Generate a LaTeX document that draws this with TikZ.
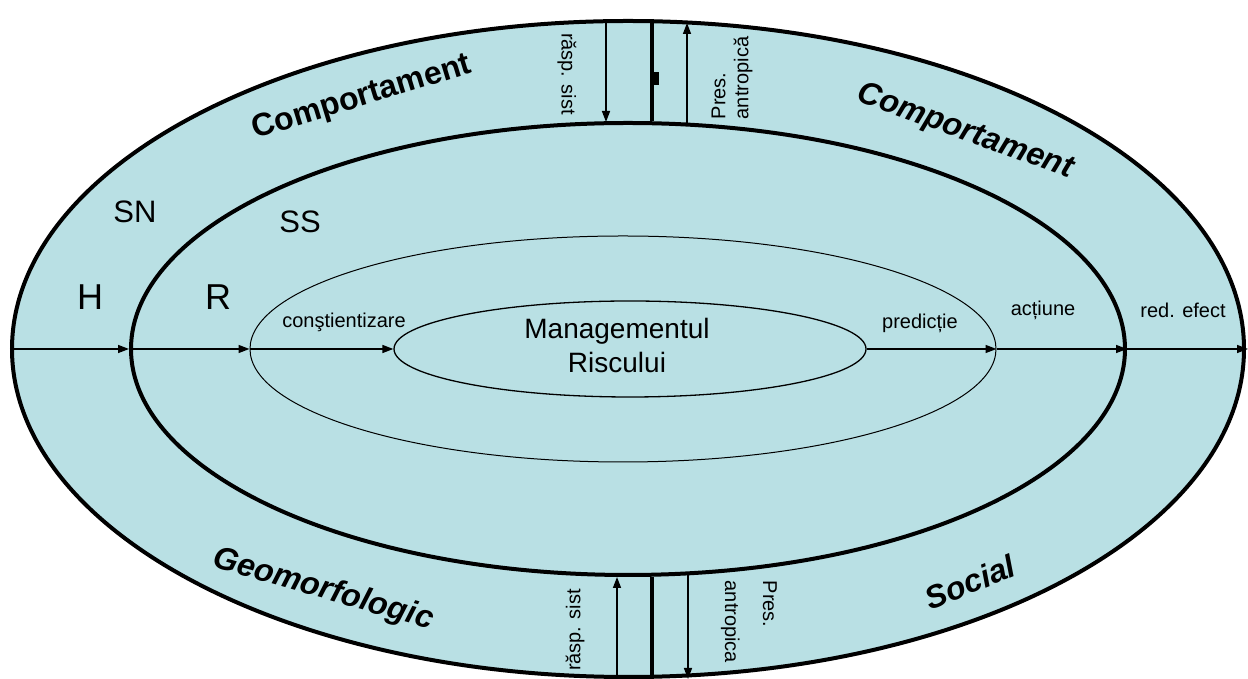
\documentclass[tikz,border=0pt]{standalone}
\usepackage{fontspec}
\setmainfont{Liberation Sans}
\usepackage{tikz}
\usetikzlibrary{shapes.geometric,arrows.meta,calc}
\definecolor{sysblue}{RGB}{185,224,228}
\tikzset{
	sysring/.style={ellipse, draw, inner sep=0pt},
	flow/.style={line width=1.5pt, -{Triangle[length=11pt,width=8pt]}},
	wall/.style={line width=4.5pt}
}
\tikzstyle{smalltext}=[inner sep=0pt, font=\fontsize{20}{23}\selectfont]
\tikzstyle{midtext}=[inner sep=0pt, font=\fontsize{31}{34}\selectfont]
\tikzstyle{bigtext}=[inner sep=0pt, font=\fontsize{36}{40}\selectfont]
\tikzstyle{zonetext}=[inner sep=0pt, font=\fontsize{32}{36}\selectfont\bfseries]
\begin{document}
\begin{tikzpicture}[x=1pt, y=1pt]
	\useasboundingbox (0,0) rectangle (1248,679);
	% nested systems
	\node[sysring, fill=sysblue, line width=4pt, minimum width=1232pt, minimum height=656pt] (sn) at (628,330) {};
	\node[sysring, line width=4pt, minimum width=994pt, minimum height=452pt] (ss) at (628,330) {};
	\node[sysring, line width=1pt, minimum width=746pt, minimum height=226pt] (risk) at (623,330) {};
	\node[sysring, line width=1.3pt, minimum width=472pt, minimum height=96pt] (core) at (630,330) {};
	\node[midtext, font=\fontsize{28}{34}\selectfont, align=center] (mgmt) at (617,334) {Managementul\\Riscului};
	% main flow
	\coordinate (out) at (1248,330);
	\draw[flow] (sn.west) -- (ss.west);
	\draw[flow] (ss.west) -- (risk.west);
	\draw[flow] (risk.west) -- (core.west);
	\draw[flow] (core.east) -- (risk.east);
	\draw[flow] (risk.east) -- (ss.east);
	\draw[flow] (ss.east) -- (out);
	% top exchange
	\coordinate (t1) at (606,0);
	\coordinate (t2) at (652,0);
	\coordinate (t3) at (687,0);
	\draw[wall] (t2 |- sn.north) -- (t2 |- ss.north);
	\fill (654,594) rectangle (659,607);
	\draw[flow] ($(t1 |- sn.north)+(0,-3)$) -- ($(t1 |- ss.north)+(0,-1)$);
	\draw[flow] ($(t3 |- ss.north)+(0,-4)$) -- ($(t3 |- sn.north)+(0,-4)$);
	% bottom exchange
	\coordinate (b1) at (617,0);
	\coordinate (b2) at (652,0);
	\coordinate (b3) at (688,0);
	\draw[wall] (b2) -- (b2 |- ss.south);
	\draw[flow] (b1) -- (b1 |- ss.south);
	\draw[flow] ($(b3 |- ss.south)+(0,3)$) -- (b3);
	% labels
	\node[smalltext, rotate=-90] (resp1) at (567,605) {răsp. sist};
	\node[smalltext, rotate=90, align=left] (pres1) at (732,601) {Pres.\\antropică};
	\node[smalltext, rotate=90] (resp2) at (575,49) {răsp. sist};
	\node[smalltext, rotate=-90, align=left] (pres2) at (749,57) {Pres.\\[15pt]antropica};
	\node[smalltext] (aware) at (344,357) {conştientizare};
	\node[smalltext] (predict) at (920,356) {predicție};
	\node[smalltext] (act) at (1043,369) {acțiune};
	\node[smalltext] (reduce) at (1183,369) {red. efect};
	\node[bigtext] (hlab) at (90,382) {H};
	\node[bigtext] (rlab) at (218,382) {R};
	\node[midtext] (snlab) at (135,467) {SN};
	\node[midtext] (sslab) at (300,457) {SS};
	\node[zonetext, rotate=17] (beh1) at (362,581) {Comportament};
	\node[zonetext, rotate=-20] (beh2) at (965,547) {\itshape Comportament};
	\node[zonetext, rotate=-16] (geo) at (323,89) {\itshape Geomorfologic};
	\node[zonetext, rotate=22] (soc) at (970,97) {\itshape Social};
\end{tikzpicture}
\end{document}
